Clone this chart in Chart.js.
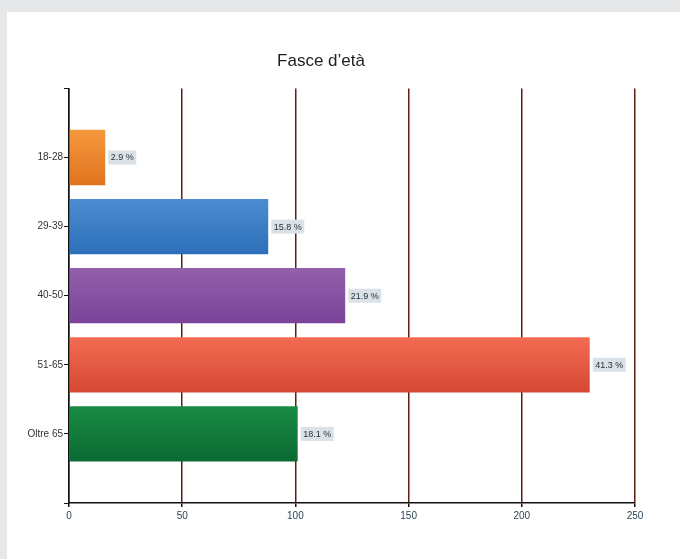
<!DOCTYPE html>
<html>
<head>
<meta charset="utf-8">
<script src="https://cdn.jsdelivr.net/npm/chart.js@4/dist/chart.umd.min.js"></script>
<style>
  html, body { margin: 0; padding: 0; background: #e6e7e9; }
  #panel { position: absolute; left: 7px; top: 12px; width: 673px; height: 547px; background: #fff; }
</style>
</head>
<body>
<div id="panel"><canvas id="bars" width="673" height="547"></canvas></div>
<script>
const categories = ["18-28", "29-39", "40-50", "51-65", "Oltre 65"];
const values = [16, 88, 122, 230, 101];
const topColors = ["#f5983e", "#4d8cd0", "#9360ab", "#f26c52", "#1a8c44"];
const bottomColors = ["#e0741f", "#2c6fb8", "#7a4399", "#d64834", "#0a6a33"];
const xTicks = [0, 50, 100, 150, 200, 250];

const total = values.reduce((a, b) => a + b, 0);
// blank slots above and below so the bars sit one step in from the axis ends
const labels = ["", ...categories, ""];
const data = [null, ...values, null];

// vertical gradient on each bar, like the glossy look of the original
const gradientBars = {
  id: "gradientBars",
  beforeDatasetsDraw(chart) {
    const ctx = chart.ctx;
    chart.getDatasetMeta(0).data.forEach((bar, i) => {
      const k = i - 1;
      if (k < 0 || k >= values.length) return;
      const h = bar.height;
      const g = ctx.createLinearGradient(0, bar.y - h / 2, 0, bar.y + h / 2);
      g.addColorStop(0, topColors[k]);
      g.addColorStop(1, bottomColors[k]);
      bar.options.backgroundColor = g;
    });
  },
};

// percentage tags to the right of each bar
const pctLabels = {
  id: "pctLabels",
  afterDatasetsDraw(chart) {
    const ctx = chart.ctx;
    ctx.save();
    ctx.font = "9px 'Liberation Sans', Arial, sans-serif";
    ctx.textBaseline = "middle";
    chart.getDatasetMeta(0).data.forEach((bar, i) => {
      const k = i - 1;
      if (k < 0 || k >= values.length) return;
      const txt = (values[k] / total * 100).toFixed(1) + " %";
      const w = ctx.measureText(txt).width;
      const x = bar.x + 3;
      ctx.fillStyle = "#dbe2e7";
      ctx.fillRect(x, bar.y - 7, w + 5, 14);
      ctx.fillStyle = "#1e2e38";
      ctx.fillText(txt, x + 2.5, bar.y + 0.5);
    });
    ctx.restore();
  },
};

new Chart(document.getElementById("bars"), {
  type: "bar",
  data: {
    labels: labels,
    datasets: [{
      data: data,
      backgroundColor: labels.map((_, i) => topColors[i - 1] || "transparent"),
      barPercentage: 0.8,
      categoryPercentage: 1,
    }],
  },
  options: {
    indexAxis: "y",
    responsive: false,
    animation: false,
    layout: { padding: { top: 39, right: 45, left: 0, bottom: 0 } },
    plugins: {
      legend: { display: false },
      tooltip: { enabled: false },
      title: {
        display: true,
        text: "Fasce d’età",
        color: "#222",
        font: { family: "'Liberation Sans', Arial, sans-serif", size: 17, weight: "normal" },
        padding: { top: 0, bottom: 17 },
      },
    },
    scales: {
      x: {
        min: 0,
        max: 250,
        afterBuildTicks: (s) => { s.ticks = xTicks.map((v) => ({ value: v })); },
        afterFit: (s) => { s.height = 56; },
        grid: { color: "#5c1f12", lineWidth: 1.5, tickLength: 4, tickColor: "#111" },
        border: { color: "#111", width: 1.5 },
        ticks: {
          color: "#2a4656",
          padding: 3,
          font: { family: "'Liberation Sans', Arial, sans-serif", size: 10 },
        },
      },
      y: {
        offset: false,
        afterFit: (s) => { s.width = 62; },
        grid: { offset: false, drawOnChartArea: false, tickLength: 5, color: "#111" },
        border: { color: "#111", width: 1.5 },
        ticks: {
          color: "#333",
          padding: 1,
          font: { family: "'Liberation Sans', Arial, sans-serif", size: 10 },
        },
      },
    },
  },
  plugins: [gradientBars, pctLabels],
});
</script>
</body>
</html>
